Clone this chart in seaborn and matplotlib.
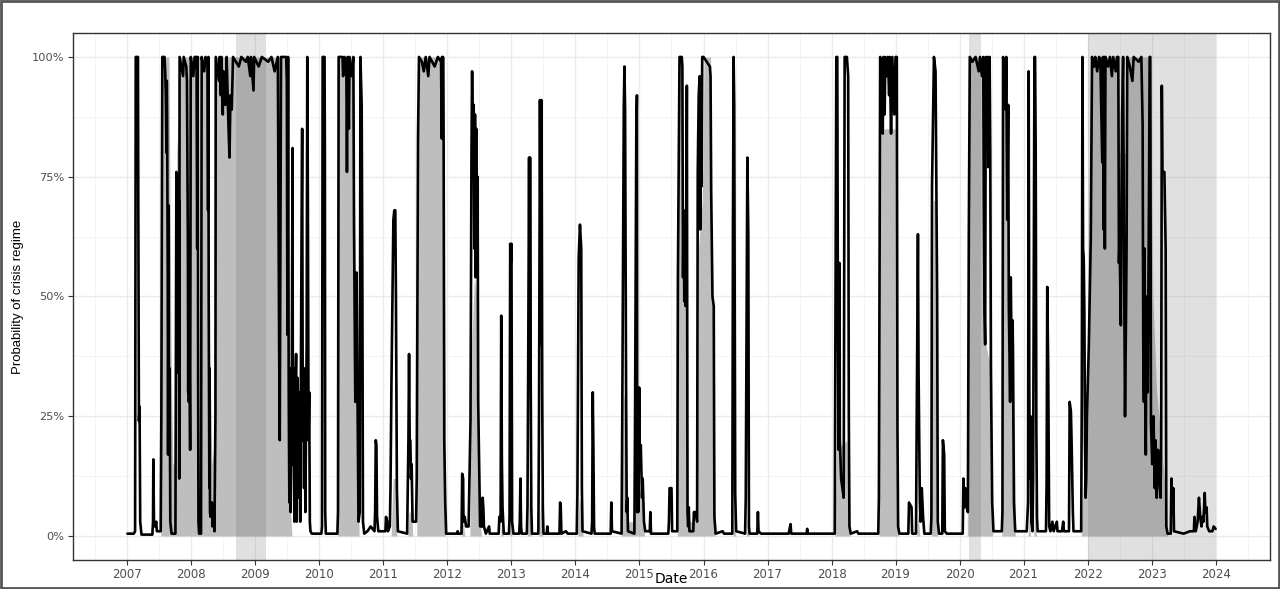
import seaborn as sns
import matplotlib.pyplot as plt
from matplotlib.ticker import PercentFormatter, FixedLocator
from matplotlib.patches import Rectangle

# filtered probability of the crisis regime (black line), (decimal year, %)
line_points = [
    (2007.00, 0.5), (2007.10, 0.5), (2007.12, 1), (2007.13, 100), (2007.165, 100), (2007.17, 70),
    (2007.18, 24), (2007.19, 27), (2007.20, 3), (2007.22, 0.3), (2007.39, 0.3), (2007.40, 3),
    (2007.405, 16), (2007.415, 3), (2007.43, 2), (2007.45, 3), (2007.46, 1), (2007.52, 1),
    (2007.53, 25), (2007.545, 100), (2007.58, 100), (2007.59, 97), (2007.60, 92), (2007.61, 80),
    (2007.615, 95), (2007.62, 88), (2007.63, 55), (2007.635, 17), (2007.645, 69), (2007.65, 17),
    (2007.66, 35), (2007.67, 3), (2007.69, 0.5), (2007.75, 0.5), (2007.765, 76), (2007.78, 75),
    (2007.785, 40), (2007.79, 74), (2007.80, 34), (2007.805, 70), (2007.81, 12), (2007.815, 100),
    (2007.87, 96), (2007.88, 100), (2007.92, 98), (2007.93, 95), (2007.945, 60), (2007.95, 30),
    (2007.955, 55), (2007.96, 28), (2007.97, 40), (2007.98, 18), (2007.99, 100),
    (2008.03, 96), (2008.05, 100), (2008.08, 100), (2008.09, 60), (2008.10, 100), (2008.105, 30),
    (2008.11, 3), (2008.12, 0.5), (2008.15, 0.5), (2008.16, 100), (2008.20, 97), (2008.22, 100),
    (2008.25, 99), (2008.26, 68), (2008.265, 100), (2008.27, 50), (2008.28, 10), (2008.285, 35),
    (2008.29, 5), (2008.30, 4), (2008.32, 7), (2008.33, 2), (2008.35, 5), (2008.36, 1),
    (2008.375, 25), (2008.38, 100), (2008.43, 95), (2008.44, 100), (2008.46, 92), (2008.47, 100),
    (2008.49, 88), (2008.50, 97), (2008.53, 90), (2008.55, 100), (2008.58, 85), (2008.595, 79),
    (2008.61, 92), (2008.63, 89), (2008.65, 100), (2008.74, 98), (2008.78, 100), (2008.85, 99),
    (2008.88, 100), (2008.92, 96), (2008.93, 100), (2008.97, 93), (2008.98, 100), (2009.05, 98),
    (2009.10, 100), (2009.20, 99), (2009.25, 100), (2009.30, 97), (2009.35, 100),
    (2009.37, 40), (2009.38, 20), (2009.39, 60), (2009.40, 100), (2009.48, 100), (2009.49, 95),
    (2009.50, 42), (2009.51, 100), (2009.52, 30), (2009.53, 7), (2009.545, 35), (2009.55, 5),
    (2009.565, 20), (2009.58, 81), (2009.585, 15), (2009.60, 35), (2009.61, 3), (2009.62, 25),
    (2009.635, 38), (2009.645, 3), (2009.66, 33), (2009.67, 8), (2009.69, 30), (2009.70, 3),
    (2009.72, 62), (2009.73, 85), (2009.74, 20), (2009.75, 30), (2009.76, 10), (2009.77, 35),
    (2009.78, 5), (2009.80, 40), (2009.81, 100), (2009.82, 68), (2009.83, 20), (2009.84, 30),
    (2009.85, 3), (2009.86, 1), (2009.88, 0.5),
    (2010.03, 0.5), (2010.04, 2), (2010.05, 100), (2010.08, 100), (2010.085, 80), (2010.09, 5),
    (2010.10, 0.5), (2010.28, 0.5), (2010.29, 5), (2010.30, 100), (2010.36, 100), (2010.37, 96),
    (2010.39, 100), (2010.42, 98), (2010.43, 76), (2010.44, 100), (2010.46, 85), (2010.47, 100),
    (2010.50, 96), (2010.53, 100), (2010.54, 65), (2010.56, 28), (2010.58, 55), (2010.60, 20),
    (2010.61, 3), (2010.63, 5), (2010.64, 100), (2010.66, 90), (2010.67, 55), (2010.68, 3),
    (2010.70, 0.5), (2010.75, 1), (2010.80, 2), (2010.86, 1), (2010.87, 5), (2010.88, 20),
    (2010.89, 19), (2010.90, 4), (2010.92, 1), (2010.98, 1),
    (2011.03, 1), (2011.04, 4), (2011.06, 3), (2011.07, 1), (2011.10, 2), (2011.11, 10),
    (2011.125, 32), (2011.14, 50), (2011.155, 66), (2011.17, 68), (2011.185, 68), (2011.195, 50),
    (2011.21, 10), (2011.225, 1), (2011.37, 0.5), (2011.39, 20), (2011.40, 38), (2011.41, 20),
    (2011.42, 20), (2011.43, 12), (2011.44, 15), (2011.455, 3), (2011.51, 3), (2011.52, 12),
    (2011.54, 83), (2011.555, 100), (2011.60, 99), (2011.63, 97), (2011.66, 100), (2011.70, 96),
    (2011.72, 100), (2011.80, 98), (2011.85, 100), (2011.90, 99), (2011.91, 83), (2011.915, 100),
    (2011.925, 83), (2011.93, 100), (2011.94, 83), (2011.95, 20), (2011.965, 7), (2011.98, 0.5),
    (2012.15, 0.5), (2012.16, 1), (2012.17, 0.5), (2012.22, 0.5), (2012.23, 13), (2012.245, 12),
    (2012.25, 3), (2012.27, 4), (2012.29, 2), (2012.33, 2), (2012.36, 24), (2012.375, 80),
    (2012.385, 97), (2012.40, 77), (2012.41, 90), (2012.42, 60), (2012.43, 88), (2012.44, 54),
    (2012.45, 85), (2012.46, 56), (2012.47, 75), (2012.48, 28), (2012.50, 10), (2012.51, 2),
    (2012.545, 2), (2012.55, 8), (2012.56, 6), (2012.57, 2), (2012.60, 0.5), (2012.65, 2),
    (2012.66, 0.5), (2012.80, 0.5), (2012.81, 4), (2012.83, 3), (2012.84, 46), (2012.85, 16),
    (2012.86, 6), (2012.88, 0.5), (2012.96, 0.5), (2012.97, 4), (2012.98, 61), (2012.99, 57),
    (2013.00, 61), (2013.01, 3), (2013.03, 0.5), (2013.12, 0.5), (2013.13, 3), (2013.14, 12),
    (2013.15, 2), (2013.16, 0.5), (2013.24, 0.5), (2013.25, 6), (2013.26, 32), (2013.275, 79),
    (2013.285, 34), (2013.29, 79), (2013.30, 34), (2013.31, 6), (2013.32, 0.5), (2013.42, 0.5),
    (2013.43, 24), (2013.445, 91), (2013.46, 40), (2013.47, 91), (2013.48, 30), (2013.49, 6),
    (2013.50, 0.5), (2013.55, 0.5), (2013.56, 2), (2013.57, 0.5), (2013.75, 0.5), (2013.76, 7),
    (2013.77, 6), (2013.78, 0.5), (2013.85, 1), (2013.88, 0.5),
    (2014.02, 0.5), (2014.03, 9), (2014.05, 58), (2014.07, 65), (2014.09, 60), (2014.10, 10),
    (2014.11, 1), (2014.25, 0.5), (2014.26, 3), (2014.27, 30), (2014.28, 18), (2014.29, 2),
    (2014.30, 0.5), (2014.55, 0.5), (2014.56, 7), (2014.57, 1), (2014.72, 0.5), (2014.73, 23),
    (2014.755, 90), (2014.765, 98), (2014.775, 89), (2014.79, 32), (2014.80, 5), (2014.81, 8),
    (2014.82, 1), (2014.92, 0.5), (2014.93, 23), (2014.95, 84), (2014.96, 92), (2014.965, 5),
    (2014.975, 20), (2014.98, 5), (2014.995, 31), (2015.005, 14), (2015.02, 19), (2015.04, 8),
    (2015.05, 12), (2015.07, 3), (2015.09, 1), (2015.16, 1), (2015.17, 5), (2015.18, 0.5),
    (2015.45, 0.5), (2015.46, 3), (2015.47, 10), (2015.50, 10), (2015.51, 1), (2015.59, 1),
    (2015.60, 54), (2015.625, 100), (2015.66, 100), (2015.67, 98), (2015.68, 54), (2015.69, 68),
    (2015.70, 49), (2015.71, 62), (2015.72, 48), (2015.73, 55), (2015.74, 94), (2015.75, 5),
    (2015.76, 2), (2015.77, 6), (2015.78, 1), (2015.84, 1), (2015.85, 5), (2015.88, 5),
    (2015.90, 3), (2015.91, 76), (2015.925, 92), (2015.94, 96), (2015.95, 64), (2015.96, 88),
    (2015.97, 73), (2015.98, 100), (2016.00, 100), (2016.10, 98), (2016.11, 96), (2016.12, 72),
    (2016.14, 50), (2016.16, 48), (2016.17, 4), (2016.19, 0.5), (2016.30, 1), (2016.32, 0.5),
    (2016.45, 0.5), (2016.46, 64), (2016.47, 100), (2016.48, 90), (2016.495, 9), (2016.51, 1),
    (2016.65, 0.5), (2016.66, 8), (2016.685, 79), (2016.70, 63), (2016.71, 2), (2016.72, 0.5),
    (2016.84, 0.5), (2016.85, 5), (2016.86, 1), (2016.90, 0.5), (2017.33, 0.5), (2017.36, 2.5),
    (2017.37, 0.5), (2017.61, 0.5), (2017.62, 1.5), (2017.63, 0.5),
    (2018.05, 0.5), (2018.06, 40), (2018.075, 100), (2018.09, 100), (2018.10, 45), (2018.11, 18),
    (2018.125, 57), (2018.13, 20), (2018.15, 12), (2018.17, 10), (2018.19, 8), (2018.205, 100),
    (2018.24, 100), (2018.26, 96), (2018.27, 25), (2018.28, 2), (2018.30, 0.5), (2018.40, 1),
    (2018.42, 0.5), (2018.73, 0.5), (2018.74, 8), (2018.76, 100), (2018.79, 92), (2018.80, 84),
    (2018.81, 100), (2018.83, 88), (2018.84, 100), (2018.86, 96), (2018.88, 100), (2018.90, 92),
    (2018.91, 100), (2018.93, 84), (2018.95, 100), (2018.98, 88), (2019.00, 100), (2019.02, 100),
    (2019.03, 23), (2019.04, 2), (2019.06, 0.5), (2019.20, 0.5), (2019.21, 7), (2019.25, 6),
    (2019.26, 0.5), (2019.32, 0.5), (2019.33, 23), (2019.35, 63), (2019.36, 34), (2019.38, 7),
    (2019.39, 3), (2019.41, 10), (2019.43, 4), (2019.45, 0.5), (2019.55, 0.5), (2019.56, 4),
    (2019.57, 73), (2019.60, 100), (2019.625, 97), (2019.65, 50), (2019.66, 3), (2019.68, 0.5),
    (2019.73, 0.5), (2019.74, 20), (2019.76, 17), (2019.77, 1), (2019.80, 0.5),
    (2020.05, 0.5), (2020.06, 12), (2020.07, 6), (2020.09, 10), (2020.11, 6), (2020.13, 5),
    (2020.145, 64), (2020.16, 100), (2020.20, 99), (2020.25, 100), (2020.30, 97), (2020.32, 100),
    (2020.35, 96), (2020.37, 100), (2020.38, 68), (2020.39, 47), (2020.40, 40), (2020.41, 100),
    (2020.43, 85), (2020.44, 100), (2020.45, 77), (2020.47, 100), (2020.48, 80), (2020.49, 35),
    (2020.51, 7), (2020.53, 1), (2020.66, 1), (2020.67, 5), (2020.68, 100), (2020.70, 97),
    (2020.72, 89), (2020.73, 100), (2020.745, 66), (2020.76, 90), (2020.77, 48), (2020.79, 28),
    (2020.80, 54), (2020.82, 30), (2020.83, 45), (2020.85, 7), (2020.87, 1),
    (2021.05, 1), (2021.07, 7), (2021.08, 97), (2021.09, 30), (2021.10, 12), (2021.11, 25),
    (2021.12, 3), (2021.14, 1), (2021.15, 12), (2021.17, 100), (2021.18, 100), (2021.19, 80),
    (2021.20, 22), (2021.21, 4), (2021.22, 1), (2021.35, 1), (2021.36, 11), (2021.37, 52),
    (2021.385, 35), (2021.40, 2), (2021.42, 1), (2021.45, 3), (2021.47, 1), (2021.52, 3),
    (2021.53, 1), (2021.60, 1), (2021.62, 3), (2021.63, 1), (2021.71, 1), (2021.72, 28),
    (2021.74, 26), (2021.75, 20), (2021.77, 5), (2021.78, 1), (2021.90, 1), (2021.91, 30),
    (2021.92, 100), (2021.93, 60), (2021.94, 58), (2021.95, 47), (2021.96, 20), (2021.97, 8),
    (2021.98, 12), (2021.99, 25), (2022.02, 40), (2022.05, 62), (2022.07, 100), (2022.10, 98),
    (2022.12, 100), (2022.15, 97), (2022.18, 100), (2022.20, 99), (2022.23, 78), (2022.24, 100),
    (2022.25, 64), (2022.26, 100), (2022.27, 60), (2022.28, 100), (2022.32, 98), (2022.35, 100),
    (2022.38, 96), (2022.40, 100), (2022.44, 97), (2022.46, 100), (2022.48, 100), (2022.49, 57),
    (2022.50, 62), (2022.52, 44), (2022.53, 70), (2022.54, 88), (2022.555, 100), (2022.57, 59),
    (2022.585, 25), (2022.60, 45), (2022.61, 61), (2022.62, 100), (2022.66, 98), (2022.70, 95),
    (2022.72, 100), (2022.80, 99), (2022.84, 100), (2022.86, 86), (2022.87, 40), (2022.88, 28),
    (2022.89, 60), (2022.90, 35), (2022.91, 17), (2022.92, 50), (2022.94, 30), (2022.96, 72),
    (2022.97, 100), (2022.98, 100), (2022.99, 24), (2023.01, 15), (2023.03, 25), (2023.05, 10),
    (2023.06, 20), (2023.08, 8), (2023.10, 18), (2023.12, 12), (2023.14, 8), (2023.15, 20),
    (2023.16, 94), (2023.17, 76), (2023.20, 76), (2023.22, 60), (2023.23, 2), (2023.25, 0.5),
    (2023.30, 0.5), (2023.31, 12), (2023.33, 5), (2023.34, 10), (2023.35, 1), (2023.50, 0.5),
    (2023.60, 1), (2023.66, 1), (2023.67, 4), (2023.69, 1), (2023.72, 3), (2023.74, 8),
    (2023.76, 4), (2023.78, 2), (2023.79, 4), (2023.81, 3), (2023.83, 9), (2023.84, 5),
    (2023.86, 6), (2023.87, 2), (2023.90, 1), (2023.95, 1), (2023.97, 2), (2024.00, 1.5),
]

# smoothed probability of the crisis regime (grey area), (decimal year, %)
area_points = [
    (2007.00, 0), (2007.52, 0), (2007.54, 100), (2007.65, 100), (2007.68, 40), (2007.71, 15),
    (2007.74, 15), (2007.77, 80), (2007.81, 90), (2007.83, 100), (2008.08, 100), (2008.11, 10),
    (2008.14, 10), (2008.16, 100), (2008.25, 100), (2008.28, 40), (2008.32, 15), (2008.36, 20),
    (2008.39, 100), (2009.48, 100), (2009.52, 40), (2009.55, 5), (2009.57, 0), (2010.28, 0),
    (2010.30, 100), (2010.53, 100), (2010.56, 50), (2010.60, 20), (2010.62, 0), (2011.12, 0),
    (2011.15, 12), (2011.19, 12), (2011.21, 0), (2011.38, 0), (2011.40, 5), (2011.44, 5),
    (2011.46, 0), (2011.52, 0), (2011.55, 100), (2011.94, 100), (2011.97, 0), (2012.22, 0),
    (2012.24, 4), (2012.27, 0), (2012.35, 0), (2012.38, 40), (2012.42, 54), (2012.46, 50),
    (2012.48, 25), (2012.51, 4), (2012.53, 0), (2012.83, 0), (2012.85, 4), (2012.87, 0),
    (2012.97, 0), (2012.99, 5), (2013.01, 0), (2013.25, 0), (2013.28, 10), (2013.31, 0),
    (2013.43, 0), (2013.46, 8), (2013.49, 0), (2014.03, 0), (2014.06, 8), (2014.10, 5),
    (2014.12, 0), (2014.72, 0), (2014.75, 30), (2014.79, 25), (2014.81, 3), (2014.92, 3),
    (2014.95, 12), (2015.05, 8), (2015.08, 0), (2015.59, 0), (2015.62, 100), (2015.67, 100),
    (2015.70, 50), (2015.74, 45), (2015.76, 3), (2015.90, 3), (2015.92, 60), (2015.98, 70),
    (2016.01, 100), (2016.11, 100), (2016.13, 50), (2016.16, 45), (2016.18, 0), (2016.46, 0),
    (2016.48, 8), (2016.50, 0), (2016.67, 0), (2016.69, 5), (2016.71, 0), (2018.05, 0),
    (2018.08, 18), (2018.24, 20), (2018.27, 5), (2018.29, 0), (2018.74, 0), (2018.77, 85),
    (2019.01, 85), (2019.03, 20), (2019.05, 0), (2019.33, 0), (2019.35, 5), (2019.38, 0),
    (2019.56, 0), (2019.59, 70), (2019.64, 70), (2019.66, 0), (2020.12, 0), (2020.15, 100),
    (2020.38, 100), (2020.41, 40), (2020.49, 35), (2020.52, 0), (2020.66, 0), (2020.68, 100),
    (2020.74, 95), (2020.78, 50), (2020.85, 40), (2020.87, 0), (2021.07, 0), (2021.09, 4),
    (2021.11, 0), (2021.16, 0), (2021.18, 10), (2021.20, 0), (2021.90, 0), (2021.93, 10),
    (2021.99, 15), (2022.03, 60), (2022.07, 100), (2022.48, 100), (2022.50, 80), (2022.60, 80),
    (2022.63, 100), (2022.98, 100), (2023.02, 50), (2023.08, 30), (2023.15, 20), (2023.22, 8),
    (2023.25, 0), (2024.00, 0),
]

# crisis periods (shaded bands)
crisis_start = [2008.69, 2020.15, 2022.01]
crisis_end = [2009.17, 2020.33, 2024.01]

year_ticks = list(range(2007, 2025))
prob_ticks = [0, 25, 50, 75, 100]

line_t, line_p = zip(*line_points)
area_t, area_p = zip(*area_points)

sns.set_theme(style="whitegrid")
plt.rcParams['font.family'] = ['DejaVu Sans']

fig = plt.figure(figsize=(12.8, 5.89), dpi=100)
ax = fig.add_axes([73 / 1280, 1 - 560 / 589, (1270 - 73) / 1280, (560 - 33) / 589])
ax.set_facecolor("white")

ax.fill_between(area_t, 0, area_p, color="#bebebe", linewidth=0, zorder=1)
for s, e in zip(crisis_start, crisis_end):
    ax.axvspan(s, e, color="#666666", alpha=0.2, linewidth=0, zorder=2)

sns.lineplot(x=list(line_t), y=list(line_p), color="black", linewidth=1.9,
             estimator=None, sort=False, ax=ax, zorder=3)

ax.set_xlim(2007 - 0.85, 2024 + 0.85)
ax.set_ylim(-5, 105)
ax.xaxis.set_major_locator(FixedLocator(year_ticks))
ax.xaxis.set_minor_locator(FixedLocator([y + 0.5 for y in range(2006, 2025)]))
ax.yaxis.set_major_locator(FixedLocator(prob_ticks))
ax.yaxis.set_minor_locator(FixedLocator([12.5, 37.5, 62.5, 87.5]))
ax.yaxis.set_major_formatter(PercentFormatter(xmax=100, decimals=0))
ax.set_xticklabels([str(y) for y in year_ticks])

ax.grid(which="major", color="#ebebeb", linewidth=1.0, zorder=0)
ax.grid(which="minor", color="#f3f3f3", linewidth=0.6, zorder=0)
ax.set_axisbelow(True)

ax.tick_params(axis="both", which="major", length=3.5, width=0.8, color="#333333",
               labelcolor="#4d4d4d", pad=2.5, bottom=True, left=True)
ax.tick_params(axis="x", which="major", labelsize=8.5)
ax.tick_params(axis="y", which="major", labelsize=8.2)
ax.tick_params(axis="both", which="minor", length=0)
for sp in ax.spines.values():
    sp.set_color("#333333")
    sp.set_linewidth(1.0)
    sp.set_visible(True)

ax.set_xlabel("Date", fontsize=10, color="black", va="center")
ax.xaxis.set_label_coords(0.5, -19 / 527)
ax.set_ylabel("Probability of crisis regime", fontsize=9.5, color="black", labelpad=6,
              family=["Liberation Sans Narrow", "Liberation Sans", "DejaVu Sans"])

# outer frame around the whole picture
fig.patches.append(Rectangle((0.001, 0.002), 0.998, 0.996, transform=fig.transFigure,
                             fill=False, edgecolor="#555555", linewidth=2))

fig.savefig("out.png", dpi=100)
